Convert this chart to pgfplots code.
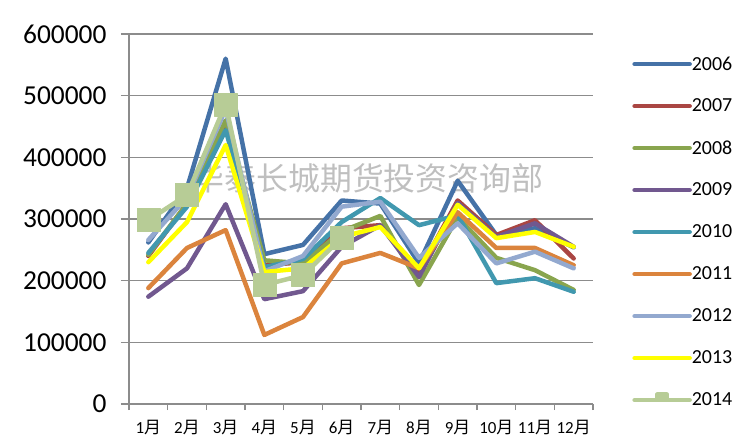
\documentclass[border=0pt]{standalone}
\usepackage{fontspec}
\setmainfont{Carlito}
\newfontfamily\cjk{Noto Sans CJK SC}
\usepackage{pgfplots}
\usepackage{pgfplotstable}
\pgfplotsset{compat=1.18}
\definecolor{c06}{HTML}{4572A7}
\definecolor{c07}{HTML}{AA4643}
\definecolor{c08}{HTML}{89A54E}
\definecolor{c09}{HTML}{71588F}
\definecolor{c10}{HTML}{4198AF}
\definecolor{c11}{HTML}{DB843D}
\definecolor{c12}{HTML}{93A9CF}
\definecolor{c13}{HTML}{FFFF00}
\definecolor{c14}{HTML}{B7CC96}
\definecolor{gridgray}{HTML}{8C8C8C}
\pgfplotstableread{
m y2006 y2007 y2008 y2009 y2010 y2011 y2012 y2013
1 262000 240000 242000 174000 245000 188000 266000 230000
2 350000 325000 325000 220000 320000 253000 335000 295000
3 560000 455000 460000 324000 444000 282000 478000 420000
4 243000 225000 233000 170000 222000 112000 215000 214000
5 258000 230000 228000 183000 235000 141000 240000 220000
6 330000 285000 280000 255000 295000 228000 320000 271000
7 325000 290000 305000 290000 334000 245000 328000 287000
8 228000 215000 193000 206000 290000 220000 237000 220000
9 362000 330000 303000 326000 306000 311000 293000 323000
10 274000 274000 237000 271000 196000 253000 228000 269000
11 285000 298000 217000 293000 204000 253000 247000 279000
12 254000 236000 185000 255000 182000 225000 220000 255000
}\datatable
\pgfplotstableread{
m y2014
1 298000
2 339000
3 486000
4 193000
5 209000
6 269000
}\datafourteen
\begin{document}
\begin{tikzpicture}
\useasboundingbox (0,0) rectangle (737bp,440bp);
\node[text=gray!50, font=\cjk\fontsize{32}{34}\selectfont] at (368bp,262bp) {华泰长城期货投资咨询部};
\begin{axis}[
  at={(129bp,36bp)}, anchor=south west,
  scale only axis, width=464bp, height=370bp,
  xmin=0.5, xmax=12.5, ymin=0, ymax=600000,
  axis x line*=bottom, axis y line*=left,
  axis line style={draw=gridgray, line width=1.2bp},
  xtick={1,...,12},
  xticklabels={1{\cjk 月},2{\cjk 月},3{\cjk 月},4{\cjk 月},5{\cjk 月},6{\cjk 月},7{\cjk 月},8{\cjk 月},9{\cjk 月},10{\cjk 月},11{\cjk 月},12{\cjk 月}},
  major x tick style={draw=none},
  minor xtick={0.5,1.5,...,12.5},
  minor x tick style={draw=gridgray, line width=1.2bp},
  ytick={0,100000,...,600000},
  y tick style={draw=gridgray, line width=1.2bp},
  tick align=outside, major tick length=8bp, minor tick length=6bp,
  xtick pos=left, ytick pos=left,
  scaled y ticks=false,
  /pgf/number format/assume math mode=true,
  yticklabel={\pgfmathprintnumber[fixed,1000 sep={}]{\tick}},
  yticklabel style={font=\fontsize{27.5}{30}\selectfont, xshift=-11bp},
  xticklabel style={font=\fontsize{17}{19}\selectfont, yshift=-5bp},
  ymajorgrids, major grid style={draw=gridgray, line width=1.2bp},
  legend style={at={(1.078,0.981)}, anchor=north west, draw=none, fill=none,
    font=\fontsize{20}{22}\selectfont, row sep=0pt,
    nodes={minimum height=42bp, inner sep=0pt, anchor=west}},
  legend cell align=left,
  legend image code/.code={\draw[#1, mark=none] (0bp,0bp) -- (55bp,0bp);},
  every axis plot/.append style={line width=4.5bp, line join=round, line cap=round},
]
\addplot[c06, no marks] table[x=m, y=y2006] {\datatable};
\addlegendentry{2006}
\addplot[c07, no marks] table[x=m, y=y2007] {\datatable};
\addlegendentry{2007}
\addplot[c08, no marks] table[x=m, y=y2008] {\datatable};
\addlegendentry{2008}
\addplot[c09, no marks] table[x=m, y=y2009] {\datatable};
\addlegendentry{2009}
\addplot[c10, no marks] table[x=m, y=y2010] {\datatable};
\addlegendentry{2010}
\addplot[c11, no marks] table[x=m, y=y2011] {\datatable};
\addlegendentry{2011}
\addplot[c12, no marks] table[x=m, y=y2012] {\datatable};
\addlegendentry{2012}
\addplot[c13, no marks] table[x=m, y=y2013] {\datatable};
\addlegendentry{2013}
\addplot[c14, mark=square*, mark size=11.5bp, mark options={line width=0.5bp, fill=c14, draw=c14},
  legend image code/.code={\draw[c14, line width=4.5bp, line cap=round] (0bp,0bp) -- (55bp,0bp);
    \fill[c14] (23bp,0bp) rectangle (32bp,6bp);}] table[x=m, y=y2014] {\datafourteen};
\addlegendentry{2014}
\end{axis}
\end{tikzpicture}
\end{document}
